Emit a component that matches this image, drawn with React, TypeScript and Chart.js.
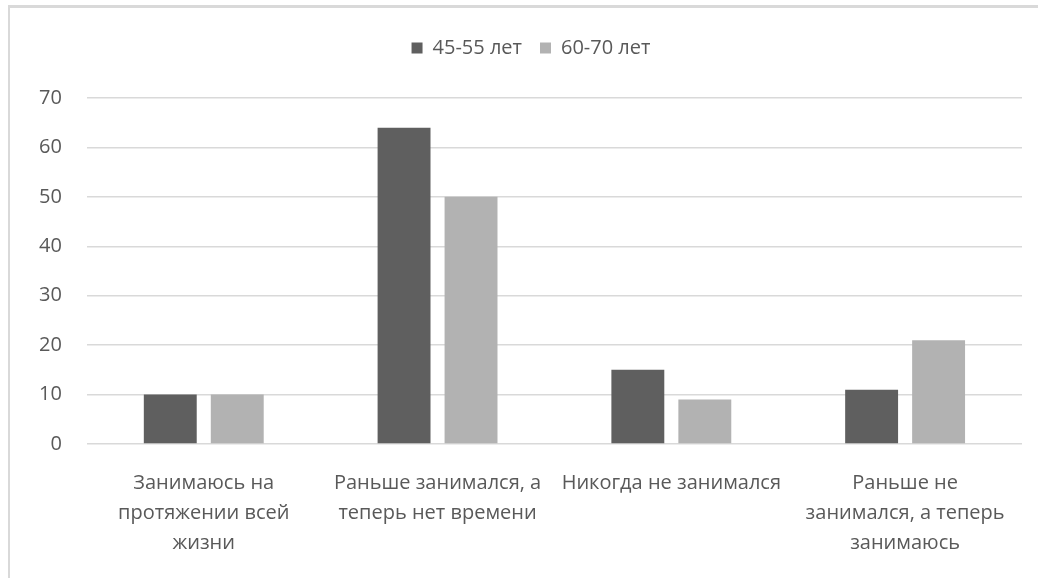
import React, { useEffect, useRef } from "react";
import { Chart, registerables } from "chart.js";

Chart.register(...registerables);

const categories: string[][] = [
  ["Занимаюсь на", "протяжении всей", "жизни"],
  ["Раньше занимался, а", "теперь нет времени"],
  ["Никогда не занимался"],
  ["Раньше не", "занимался, а теперь", "занимаюсь"],
];
const seriesNames = ["45-55 лет", "60-70 лет"];
const values4555 = [10, 64, 15, 11];
const values6070 = [10, 50, 9, 21];
const yTicks = { min: 0, max: 70, step: 10 };

const legendSpace = {
  id: "legendSpace",
  beforeInit(chart: any) {
    const legend = chart.legend;
    if (!legend) return;
    const origFit = legend.fit;
    legend.fit = function () {
      origFit.call(this);
      this.height += 30;
    };
  },
  afterLayout(chart: any) {
    const legend = chart.legend;
    if (!legend) return;
    legend.left += 13;
    legend.right += 13;
  },
};

export default function App() {
  const ref = useRef<HTMLCanvasElement>(null);
  useEffect(() => {
    if (!ref.current) return;
    const font = { family: "'Open Sans', sans-serif", size: 20 };
    const chart = new Chart(ref.current, {
      type: "bar",
      data: {
        labels: categories,
        datasets: [
          {
            label: seriesNames[0],
            data: values4555,
            backgroundColor: "#5f5f5f",
            categoryPercentage: 0.573,
            barPercentage: 0.79,
          },
          {
            label: seriesNames[1],
            data: values6070,
            backgroundColor: "#b2b2b2",
            categoryPercentage: 0.573,
            barPercentage: 0.79,
          },
        ],
      },
      plugins: [legendSpace],
      options: {
        animation: false,
        responsive: false,
        maintainAspectRatio: false,
        layout: { padding: { left: 4, right: 16, top: 12, bottom: 4 } },
        plugins: {
          tooltip: { enabled: false },
          legend: {
            position: "top",
            labels: {
              boxWidth: 11,
              boxHeight: 11,
              color: "#595959",
              font,
              padding: 18,
            },
          },
        },
        scales: {
          x: {
            grid: { display: false },
            border: { display: false },
            ticks: {
              color: "#595959",
              font: { ...font, lineHeight: 1.5 },
              maxRotation: 0,
              autoSkip: false,
              padding: 16,
            },
          },
          y: {
            min: yTicks.min,
            max: yTicks.max,
            grid: { color: "#d9d9d9", lineWidth: 1.5, drawTicks: false },
            border: { display: false },
            ticks: {
              stepSize: yTicks.step,
              color: "#595959",
              font,
              padding: 25,
            },
          },
        },
      },
    });
    return () => chart.destroy();
  }, []);
  return (
    <div
      style={{
        position: "absolute",
        left: 8,
        top: 5,
        width: 1030,
        height: 573,
        borderTop: "3px solid #d9d9d9",
        borderLeft: "2px solid #d9d9d9",
        background: "#fff",
      }}
    >
      <canvas ref={ref} width={1028} height={570} style={{ display: "block" }} />
    </div>
  );
}
